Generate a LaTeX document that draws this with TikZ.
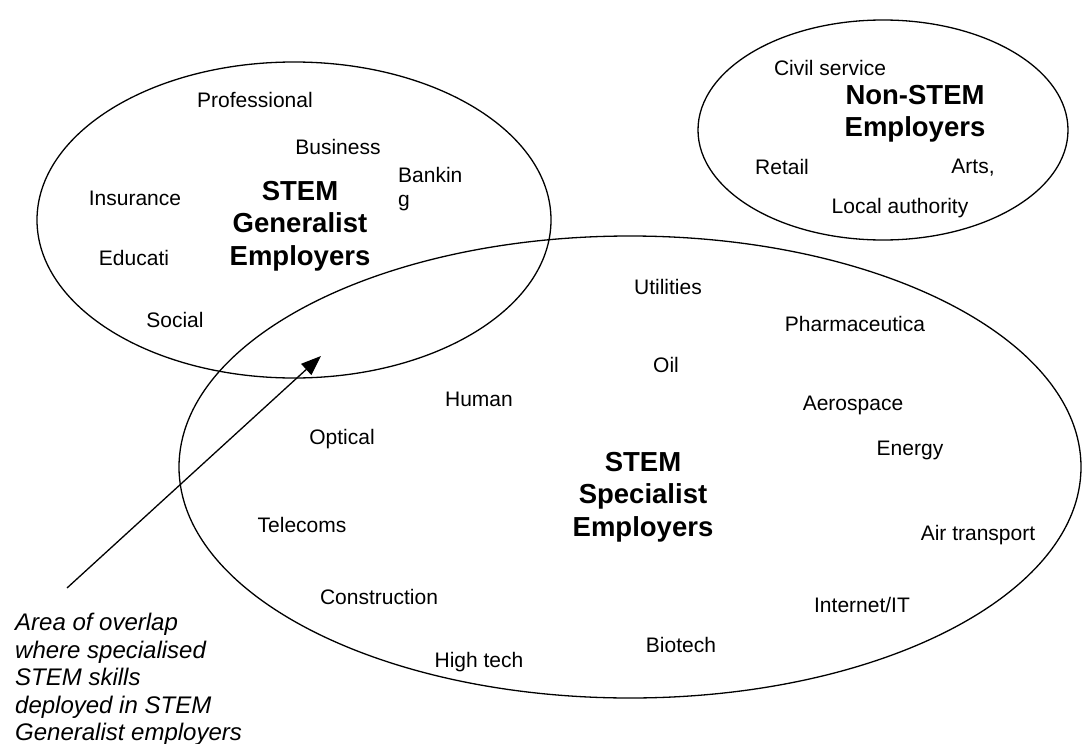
\documentclass[tikz,border=0pt]{standalone}
\usepackage{fontspec}
\setmainfont{Liberation Sans}
\usetikzlibrary{arrows.meta}

\tikzset{
    sector/.style={font=\fontsize{21}{24}\selectfont, inner sep=0pt},
    group/.style={font=\fontsize{27.5}{32.5}\selectfont\bfseries, align=center, inner sep=0pt},
    note/.style={font=\fontsize{24}{27.5}\selectfont\itshape, align=left, inner sep=0pt},
    blob/.style={line width=1.3pt},
}

\begin{document}
\begin{tikzpicture}[x=1pt, y=-1pt]

    \useasboundingbox (0,0) rectangle (1082,744); % page size as the reference

    % The three employer ellipses
    \draw[blob] (294,220) ellipse (257pt and 158pt); % generalist
    \draw[blob] (630,467) ellipse (451pt and 231pt); % specialist
    \draw[blob] (883,130) ellipse (185pt and 110pt); % non-STEM

    % Group titles
    \node[group] (gen)  at (300,226) {STEM\\Generalist\\Employers};
    \node[group] (spec) at (643,497) {STEM\\Specialist\\Employers};
    \node[group] (non)  at (915,114) {Non-STEM\\Employers};

    % Sectors in the generalist ellipse
    \foreach \px/\py/\name/\txt in {255/100/prof/Professional, 338/147/bus/Business,
        135/198/ins/Insurance, 134/258/edu/Educati, 175/320/soc/Social} {
        \node[sector] (\name) at (\px,\py) {\txt};
    }
    \node[sector, align=left, anchor=west] (bank) at (398,189) {Bankin\\g};

    % Sectors in the specialist ellipse
    \foreach \px/\py/\name/\txt in {668/287/util/Utilities, 855/324/pharm/Pharmaceutica,
        666/365/oil/Oil, 853/405/aero/Aerospace, 479/399/hum/Human, 342/439/opt/Optical,
        910/450/ener/Energy, 302/525/tele/Telecoms, 978/535/air/Air transport,
        379/597/cons/Construction, 862/605/net/{Internet/IT}, 681/645/bio/Biotech,
        479/662/high/High tech} {
        \node[sector] (\name) at (\px,\py) {\txt};
    }

    % Sectors in the non-STEM ellipse
    \foreach \px/\py/\name/\txt in {830/68/civil/Civil service, 782/167/ret/Retail,
        973/168/arts/{Arts,}, 900/208/local/Local authority} {
        \node[sector] (\name) at (\px,\py) {\txt};
    }

    % Overlap note with its arrow
    \node[note, anchor=north west] (overlap) at (15,613)
        {Area of overlap\\where specialised\\STEM skills\\deployed in STEM\\Generalist employers};
    \coordinate (tail) at (67,588);
    \coordinate (tip) at (321,356);
    \draw[line width=1.3pt, -{Triangle[length=20pt,width=15pt]}] (tail) -- (tip);

\end{tikzpicture}
\end{document}
